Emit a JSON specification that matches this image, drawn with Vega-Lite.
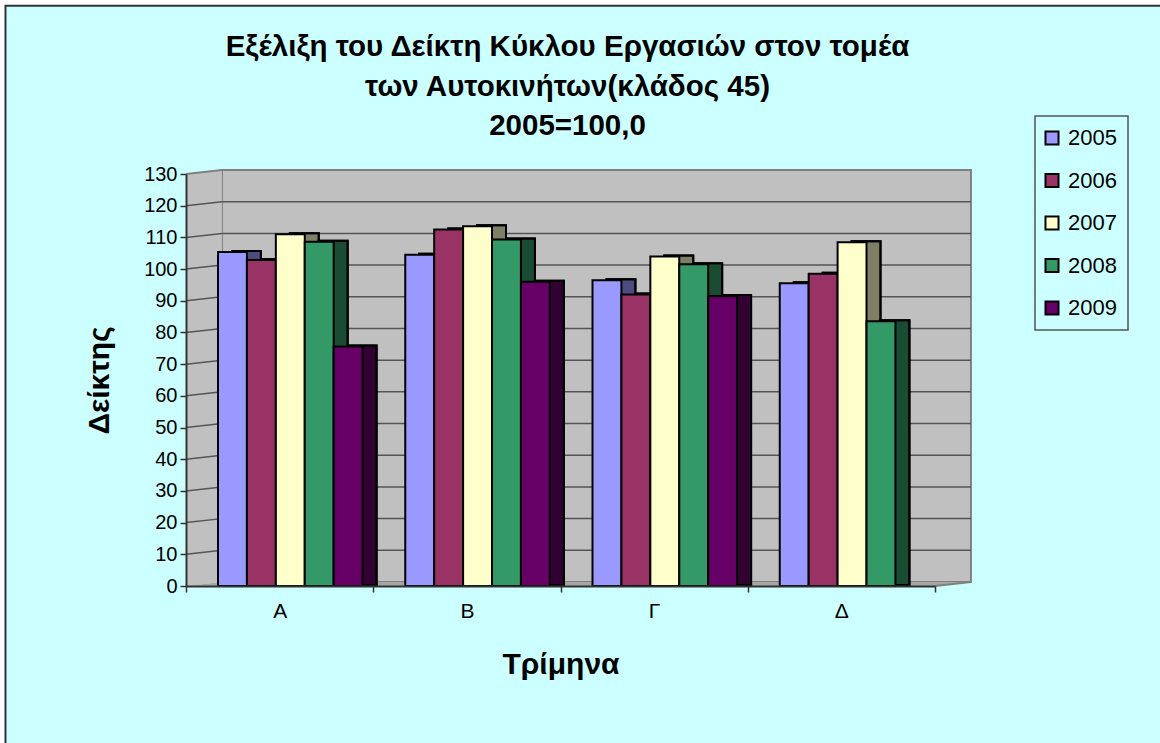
{
"$schema":"https://vega.github.io/schema/vega-lite/v6.json",
"width":749,"height":412,
"autosize":{"type":"none"},
"padding":{"left":186,"top":174,"right":225,"bottom":157},
"background":"white",
"config":{"legend":{"strokeColor":"#555555","strokeWidth":1.5}},
"title":{"text":["Εξέλιξη του Δείκτη Κύκλου Εργασιών στον τομέα","των  Αυτοκινήτων(κλάδος 45)","2005=100,0"],"font":"Liberation Sans","fontSize":29.5,"fontWeight":"bold","color":"black","lineHeight":39.5,"anchor":"middle","frame":"group","dx":7,"offset":-166,"baseline":"bottom"},
"datasets":{
"frame":[{"x":-0.964,"x2":5.4,"y":183.1,"y2":-55}],
"wall":[{"x":0.192,"x2":4.192,"y":1.26,"y2":131.26}],
"side":[{"x":0,"lo":0,"hi":130},{"x":0.192,"lo":1.26,"hi":131.26}],
"floor":[{"x":0,"lo":0,"hi":0},{"x":0.192,"lo":0,"hi":1.26},{"x":4,"lo":0,"hi":1.26},{"x":4.192,"lo":1.26,"hi":1.26}],
"grid":[{"t":10,"b":11.26},{"t":20,"b":21.26},{"t":30,"b":31.26},{"t":40,"b":41.26},{"t":50,"b":51.26},{"t":60,"b":61.26},{"t":70,"b":71.26},{"t":80,"b":81.26},{"t":90,"b":91.26},{"t":100,"b":101.26},{"t":110,"b":111.26},{"t":120,"b":121.26}],
"edges":[{"x":0,"x2":0.192,"y":130,"y2":131.26},{"x":4,"x2":4.192,"y":0,"y2":1.26}],
"bars":[
{"q":"Α","year":"2005","v":105.4},{"q":"Α","year":"2006","v":102.9},{"q":"Α","year":"2007","v":111},{"q":"Α","year":"2008","v":108.6},{"q":"Α","year":"2009","v":75.6},
{"q":"Β","year":"2005","v":104.5},{"q":"Β","year":"2006","v":112.5},{"q":"Β","year":"2007","v":113.5},{"q":"Β","year":"2008","v":109.3},{"q":"Β","year":"2009","v":96},
{"q":"Γ","year":"2005","v":96.5},{"q":"Γ","year":"2006","v":92},{"q":"Γ","year":"2007","v":104},{"q":"Γ","year":"2008","v":101.5},{"q":"Γ","year":"2009","v":91.5},
{"q":"Δ","year":"2005","v":95.5},{"q":"Δ","year":"2006","v":98.5},{"q":"Δ","year":"2007","v":108.5},{"q":"Δ","year":"2008","v":83.5}
]},
"resolve":{"scale":{"x":"independent"},"axis":{"x":"independent","y":"independent"}},
"layer":[
{"resolve":{"axis":{"x":"independent","y":"independent"}},"layer":[
{"data":{"name":"frame"},"mark":{"type":"rect","fill":"#ccffff","stroke":"#333333","strokeWidth":2,"clip":false},
 "encoding":{"x":{"field":"x","type":"quantitative","scale":{"domain":[0,4],"nice":false,"zero":false},"axis":null},"x2":{"field":"x2"},"y":{"field":"y","type":"quantitative","scale":{"domain":[0,130],"nice":false},"axis":null},"y2":{"field":"y2"}}},
{"data":{"name":"wall"},"mark":{"type":"rect","fill":"#c0c0c0","stroke":"#808080","strokeWidth":2},
 "encoding":{"x":{"field":"x","type":"quantitative","axis":null},"x2":{"field":"x2"},"y":{"field":"y","type":"quantitative","axis":null},"y2":{"field":"y2"}}},
{"data":{"name":"side"},"mark":{"type":"area","fill":"#c0c0c0"},
 "encoding":{"x":{"field":"x","type":"quantitative","axis":null},"y":{"field":"lo","type":"quantitative","axis":null},"y2":{"field":"hi"}}},
{"data":{"name":"floor"},"mark":{"type":"area","fill":"#a6a6a6"},
 "encoding":{"x":{"field":"x","type":"quantitative","axis":null},"y":{"field":"lo","type":"quantitative","axis":null},"y2":{"field":"hi"}}},
{"data":{"name":"edges"},"mark":{"type":"rule","stroke":"#808080","strokeWidth":2},
 "encoding":{"x":{"field":"x","type":"quantitative","axis":null},"x2":{"field":"x2"},"y":{"field":"y","type":"quantitative","axis":null},"y2":{"field":"y2"}}},
{"data":{"name":"grid"},"mark":{"type":"rule","stroke":"#555555","strokeWidth":1.5},
 "encoding":{"x":{"datum":0,"type":"quantitative","axis":null},"x2":{"datum":0.192},"y":{"field":"t","type":"quantitative","axis":null},"y2":{"field":"b"}}},
{"data":{"name":"grid"},"mark":{"type":"rule","stroke":"#555555","strokeWidth":1.5},
 "encoding":{"x":{"datum":0.192,"type":"quantitative","axis":null},"x2":{"datum":4.192},"y":{"field":"b","type":"quantitative","axis":null}}}
]},
{"resolve":{"scale":{"xOffset":"independent"},"axis":{"x":"independent","y":"independent"}},"layer":[
{"data":{"name":"bars"},"mark":{"type":"bar","yOffset":-1,"stroke":"black","strokeWidth":2,"width":{"band":1}},
 "encoding":{"x":{"field":"q","type":"nominal","sort":["Α","Β","Γ","Δ"],"scale":{"paddingInner":0,"paddingOuter":0},"axis":null},
 "xOffset":{"field":"year","type":"nominal","scale":{"domain":["2005","2006","2007","2008","2009"],"range":[46,190.6],"paddingInner":0,"paddingOuter":0}},
 "y":{"field":"v","type":"quantitative","axis":null},
 "color":{"field":"year","type":"nominal","scale":{"domain":["2005","2006","2007","2008","2009"],"range":["#9999ff","#993366","#ffffcc","#339966","#660066"]},"legend":{"title":null,"orient":"none","legendX":849,"legendY":-58,"symbolType":"square","symbolSize":170,"symbolStrokeColor":"black","symbolStrokeWidth":2,"symbolOpacity":1,"symbolOffset":-5,"labelFont":"Liberation Sans","labelFontSize":22,"labelColor":"black","labelOffset":5,"rowPadding":20.5,"padding":11}}}},
{"data":{"name":"bars"},"mark":{"type":"bar","yOffset":-1,"fill":"black","fillOpacity":0.5,"stroke":"black","strokeWidth":2,"width":{"band":1}},
 "encoding":{"x":{"field":"q","type":"nominal","sort":["Α","Β","Γ","Δ"],"axis":null},
 "xOffset":{"field":"year","type":"nominal","scale":{"domain":["2005","2006","2007","2008","2009"],"range":[46,190.6],"paddingInner":0,"paddingOuter":0}},
 "y":{"field":"v","type":"quantitative","axis":null}}},
{"data":{"name":"bars"},"mark":{"type":"bar","stroke":"black","strokeWidth":2,"width":{"band":1}},
 "encoding":{"x":{"field":"q","type":"nominal","sort":["Α","Β","Γ","Δ"],
   "axis":{"title":"Τρίμηνα","titleFont":"Liberation Sans","titleFontSize":30,"titleFontWeight":"bold","titleColor":"black","titlePadding":28,"labelFont":"Liberation Sans","labelFontSize":21,"labelColor":"black","labelAngle":0,"labelPadding":8,"tickBand":"extent","tickSize":6,"tickColor":"#333333","tickWidth":1.5,"domainColor":"#333333","domainWidth":2,"grid":false,"zindex":1}},
 "xOffset":{"field":"year","type":"nominal","scale":{"domain":["2005","2006","2007","2008","2009"],"range":[32,176.6],"paddingInner":0,"paddingOuter":0}},
 "y":{"field":"v","type":"quantitative","scale":{"domain":[0,130],"nice":false},
   "axis":{"title":"Δείκτης","values":[0,10,20,30,40,50,60,70,80,90,100,110,120,130],"titleFont":"Liberation Sans","titleFontSize":30,"titleFontWeight":"bold","titleColor":"black","titlePadding":29,"labelFont":"Liberation Sans","labelFontSize":20,"labelColor":"black","labelPadding":3,"tickSize":6,"tickColor":"#333333","tickWidth":1.5,"domainColor":"#333333","domainWidth":2,"grid":false,"zindex":1}},
 "color":{"field":"year","type":"nominal","legend":{"title":null,"orient":"none","legendX":849,"legendY":-58,"symbolType":"square","symbolSize":170,"symbolStrokeColor":"black","symbolStrokeWidth":2,"symbolOpacity":1,"symbolOffset":-5,"labelFont":"Liberation Sans","labelFontSize":22,"labelColor":"black","labelOffset":5,"rowPadding":20.5,"padding":11}}}}
]}
]}
